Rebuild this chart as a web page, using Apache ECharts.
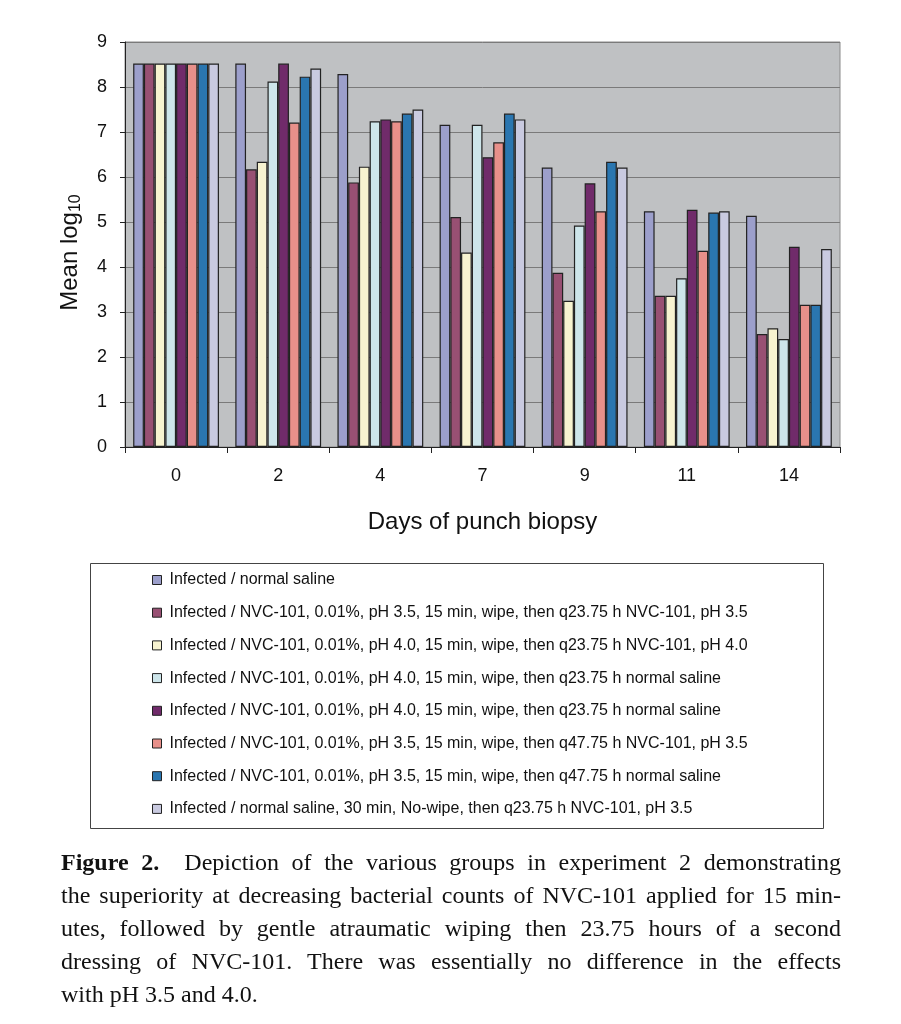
<!DOCTYPE html>
<html>
<head>
<meta charset="utf-8">
<script src="https://cdn.jsdelivr.net/npm/echarts@6/dist/echarts.min.js"></script>
<style>
  html, body { margin: 0; padding: 0; background: #fff; }
  #chart { position: absolute; left: 0; top: 0; width: 901px; height: 1024px; }
  #caption { position: absolute; left: 61px; top: 846px; width: 780px;
    font-family: "Liberation Serif", "Times New Roman", serif; font-size: 24px; line-height: 33px; color: #111; }
  #caption div { text-align: justify; text-align-last: justify; white-space: nowrap; }
  #caption div.last { text-align-last: left; }
  #measure { position: absolute; visibility: hidden; white-space: nowrap;
    font-family: "Liberation Serif", "Times New Roman", serif; font-size: 24px; }
</style>
</head>
<body>
<div id="chart"></div>
<div id="caption">
  <div><b>Figure 2.</b>&nbsp; Depiction of the various groups in experiment 2 demonstrating</div>
  <div>the superiority at decreasing bacterial counts of NVC-101 applied for 15 min-</div>
  <div>utes, followed by gentle atraumatic wiping then 23.75 hours of a second</div>
  <div>dressing of NVC-101. There was essentially no difference in the effects</div>
  <div class="last">with pH 3.5 and 4.0.</div>
</div>
<span id="measure"></span>
<script>
const categories = ['0', '2', '4', '7', '9', '11', '14'];
const seriesNames = [
  'Infected / normal saline',
  'Infected / NVC-101, 0.01%, pH 3.5, 15 min, wipe, then q23.75 h NVC-101, pH 3.5',
  'Infected / NVC-101, 0.01%, pH 4.0, 15 min, wipe, then q23.75 h NVC-101, pH 4.0',
  'Infected / NVC-101, 0.01%, pH 4.0, 15 min, wipe, then q23.75 h normal saline',
  'Infected / NVC-101, 0.01%, pH 4.0, 15 min, wipe, then q23.75 h normal saline ',
  'Infected / NVC-101, 0.01%, pH 3.5, 15 min, wipe, then q47.75 h NVC-101, pH 3.5',
  'Infected / NVC-101, 0.01%, pH 3.5, 15 min, wipe, then q47.75 h normal saline',
  'Infected / normal saline, 30 min, No-wipe, then q23.75 h NVC-101, pH 3.5'
];
const s1 = [8.52, 8.52, 8.29, 7.16, 6.21, 5.24, 5.14];
const s2 = [8.52, 6.17, 5.88, 5.11, 3.87, 3.36, 2.51];
const s3 = [8.52, 6.34, 6.23, 4.32, 3.25, 3.36, 2.64];
const s4 = [8.52, 8.12, 7.24, 7.16, 4.92, 3.75, 2.40];
const s5 = [8.52, 8.52, 7.28, 6.44, 5.86, 5.27, 4.45];
const s6 = [8.52, 7.21, 7.24, 6.77, 5.24, 4.36, 3.16];
const s7 = [8.52, 8.23, 7.41, 7.41, 6.34, 5.21, 3.16];
const s8 = [8.52, 8.41, 7.50, 7.28, 6.21, 5.24, 4.40];
const yTicks = [0, 1, 2, 3, 4, 5, 6, 7, 8, 9];
const colors = ['#9C9FCB', '#985073', '#F7F3D0', '#CDE5EA', '#702B6A', '#E8908A', '#2A76B0', '#C9CAE0'];

// fit caption lines that are wider than the column
(function fitCaption() {
  const meas = document.getElementById('measure');
  const W = 780;
  document.querySelectorAll('#caption div').forEach(div => {
    meas.innerHTML = div.innerHTML;
    const w = meas.getBoundingClientRect().width;
    if (w > W - 4) {
      const n = div.textContent.length;
      div.style.letterSpacing = (-(w - W + 8) / n).toFixed(2) + 'px';
    }
  });
})();

const allData = [s1, s2, s3, s4, s5, s6, s7, s8];
const chart = echarts.init(document.getElementById('chart'), null, { renderer: 'canvas' });
const series = allData.map((d, i) => ({
  name: seriesNames[i],
  type: 'bar',
  data: d,
  barGap: '0%',
  barCategoryGap: '16%',
  itemStyle: { color: colors[i], borderColor: '#222', borderWidth: 1.2 },
  emphasis: { disabled: true },
  animation: false
}));

chart.setOption({
  animation: false,
  textStyle: { fontFamily: 'Liberation Sans, Arial, sans-serif' },
  grid: { left: 125, right: 61, top: 42, bottom: 577, show: true,
    backgroundColor: '#BFC1C3', borderColor: '#8a8a8a', borderWidth: 1 },
  xAxis: {
    type: 'category', data: categories,
    name: 'Days of punch biopsy', nameLocation: 'middle', nameGap: 63,
    nameTextStyle: { fontSize: 24, color: '#111' },
    axisLine: { lineStyle: { color: '#222', width: 1 } },
    axisTick: { show: true, length: 6, lineStyle: { color: '#222' } },
    axisLabel: { fontSize: 18, color: '#111', margin: 20 }
  },
  yAxis: {
    type: 'value', min: 0, max: 9, interval: 1,
    name: 'Mean log{sub|10}', nameLocation: 'middle', nameGap: 40,
    nameTextStyle: { fontSize: 24, color: '#111', lineHeight: 30, padding: [0, 16, 0, 0],
      rich: { sub: { fontSize: 16, color: '#111', lineHeight: 30, padding: [12, 0, 0, 0] } } },
    axisLine: { show: true, lineStyle: { color: '#222', width: 1 } },
    axisTick: { show: true, length: 5, lineStyle: { color: '#222' } },
    axisLabel: { fontSize: 18, color: '#111', margin: 18,
      formatter: v => yTicks.includes(v) ? String(v) : '' },
    splitLine: { lineStyle: { color: '#7a7a7a', width: 1 } }
  },
  legend: {
    orient: 'vertical', left: 152, top: 570, padding: 0,
    itemWidth: 9, itemHeight: 9, itemGap: 12.7,
    icon: 'rect',
    itemStyle: { borderColor: '#222', borderWidth: 1 },
    textStyle: { fontSize: 16, color: '#111', lineHeight: 20, padding: [0, 0, 0, 3] },
    formatter: n => n.trim(),
    selectedMode: false
  },
  graphic: [{
    type: 'rect', shape: { x: 90.5, y: 563.5, width: 733, height: 265 },
    style: { fill: null, stroke: '#444', lineWidth: 1 }, silent: true
  }],
  series: series
});
</script>
</body>
</html>
